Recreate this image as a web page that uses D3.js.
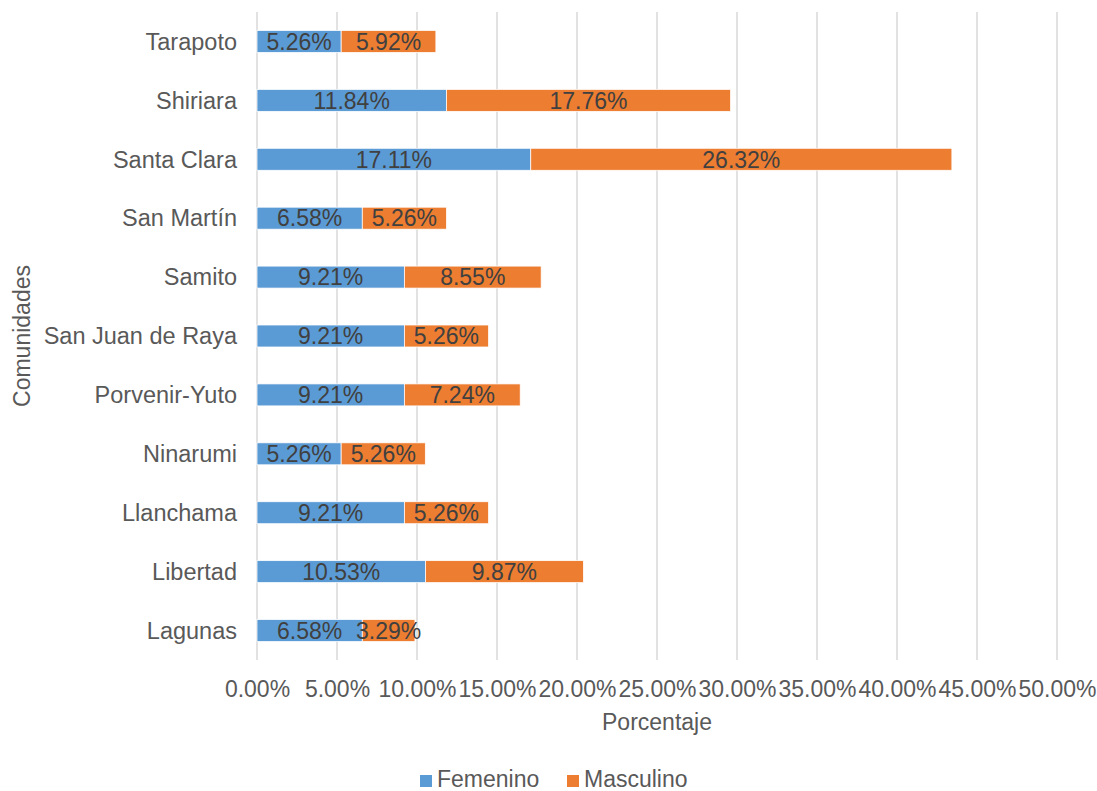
<!DOCTYPE html>
<html><head><meta charset="utf-8">
<script src="https://cdn.jsdelivr.net/npm/d3@7"></script>
<style>body{margin:0;background:#fff}svg{display:block;font-family:"Liberation Sans",Arial,sans-serif}</style>
</head><body><svg id="c" width="1097" height="791"></svg>
<script>
const categories = ["Tarapoto","Shiriara","Santa Clara","San Martín","Samito","San Juan de Raya","Porvenir-Yuto","Ninarumi","Llanchama","Libertad","Lagunas"];
const femenino = [5.26,11.84,17.11,6.58,9.21,9.21,9.21,5.26,9.21,10.53,6.58];
const masculino = [5.92,17.76,26.32,5.26,8.55,5.26,7.24,5.26,5.26,9.87,3.29];
const seriesNames = ["Femenino","Masculino"];
const tickValues = [0,5,10,15,20,25,30,35,40,45,50];
const colors = ["#5B9BD5","#ED7D31"];

(function(){
const svg = d3.select("#c");
const pL = 257, pR = 1057, pT = 12, pB = 660;
const x = d3.scaleLinear().domain([0,50]).range([pL,pR]);
const y = d3.scaleBand().domain(categories).range([pT,pB]).paddingInner(0.627).paddingOuter(0.3135);

// gridlines
svg.append("g").selectAll("line").data(tickValues).join("line")
  .attr("x1",d=>x(d)).attr("x2",d=>x(d)).attr("y1",pT).attr("y2",pB)
  .attr("stroke","#d9d9d9").attr("stroke-width",1.5);

// x tick labels
const xa = svg.append("g").attr("transform",`translate(0,${pB})`)
  .call(d3.axisBottom(x).tickValues(tickValues).tickSize(0).tickPadding(0).tickFormat(d=>d.toFixed(2)+"%"));
xa.select(".domain").remove();
xa.selectAll("text").attr("y",37).attr("dy",null).attr("font-size",23).attr("fill","#595959").attr("font-family","Liberation Sans, Arial, sans-serif");

// y labels
const ya = svg.append("g").attr("transform",`translate(${pL},0)`)
  .call(d3.axisLeft(y).tickSize(0).tickPadding(20));
ya.select(".domain").remove();
ya.selectAll("text").attr("font-size",23.5).attr("fill","#595959").attr("dy","0.35em").attr("font-family","Liberation Sans, Arial, sans-serif");

// stacked data
const rows = categories.map((c,i)=>({cat:c, Femenino:femenino[i], Masculino:masculino[i]}));
const stack = d3.stack().keys(seriesNames)(rows);
const g = svg.append("g");
stack.forEach((s,si)=>{
  g.append("g").selectAll("rect").data(s).join("rect")
    .attr("x",d=>x(d[0])).attr("width",d=>x(d[1])-x(d[0]))
    .attr("y",d=>y(d.data.cat)).attr("height",y.bandwidth())
    .attr("fill",colors[si]).attr("stroke","#fff").attr("stroke-width",0.75);
});
stack.forEach((s,si)=>{
  g.append("g").selectAll("text").data(s).join("text")
    .attr("x",d=>(x(d[0])+x(d[1]))/2).attr("y",d=>y(d.data.cat)+y.bandwidth()/2)
    .attr("dy","0.36em").attr("text-anchor","middle")
    .attr("font-size",23).attr("fill","#404040")
    .text(d=>d.data[seriesNames[si]].toFixed(2)+"%");
});

// axis titles
svg.append("text").attr("x",(pL+pR)/2).attr("y",730).attr("text-anchor","middle")
  .attr("font-size",23).attr("fill","#595959").text("Porcentaje");
svg.append("text").attr("transform",`translate(30,${(pT+pB)/2}) rotate(-90)`).attr("text-anchor","middle")
  .attr("font-size",23).attr("fill","#595959").text("Comunidades");

// legend
const legX = [420,567];
seriesNames.forEach((n,i)=>{
  svg.append("rect").attr("x",legX[i]).attr("y",775).attr("width",12).attr("height",12).attr("fill",colors[i]);
  svg.append("text").attr("x",legX[i]+17).attr("y",787).attr("font-size",23).attr("fill","#595959").text(n);
});
})();
</script></body></html>
